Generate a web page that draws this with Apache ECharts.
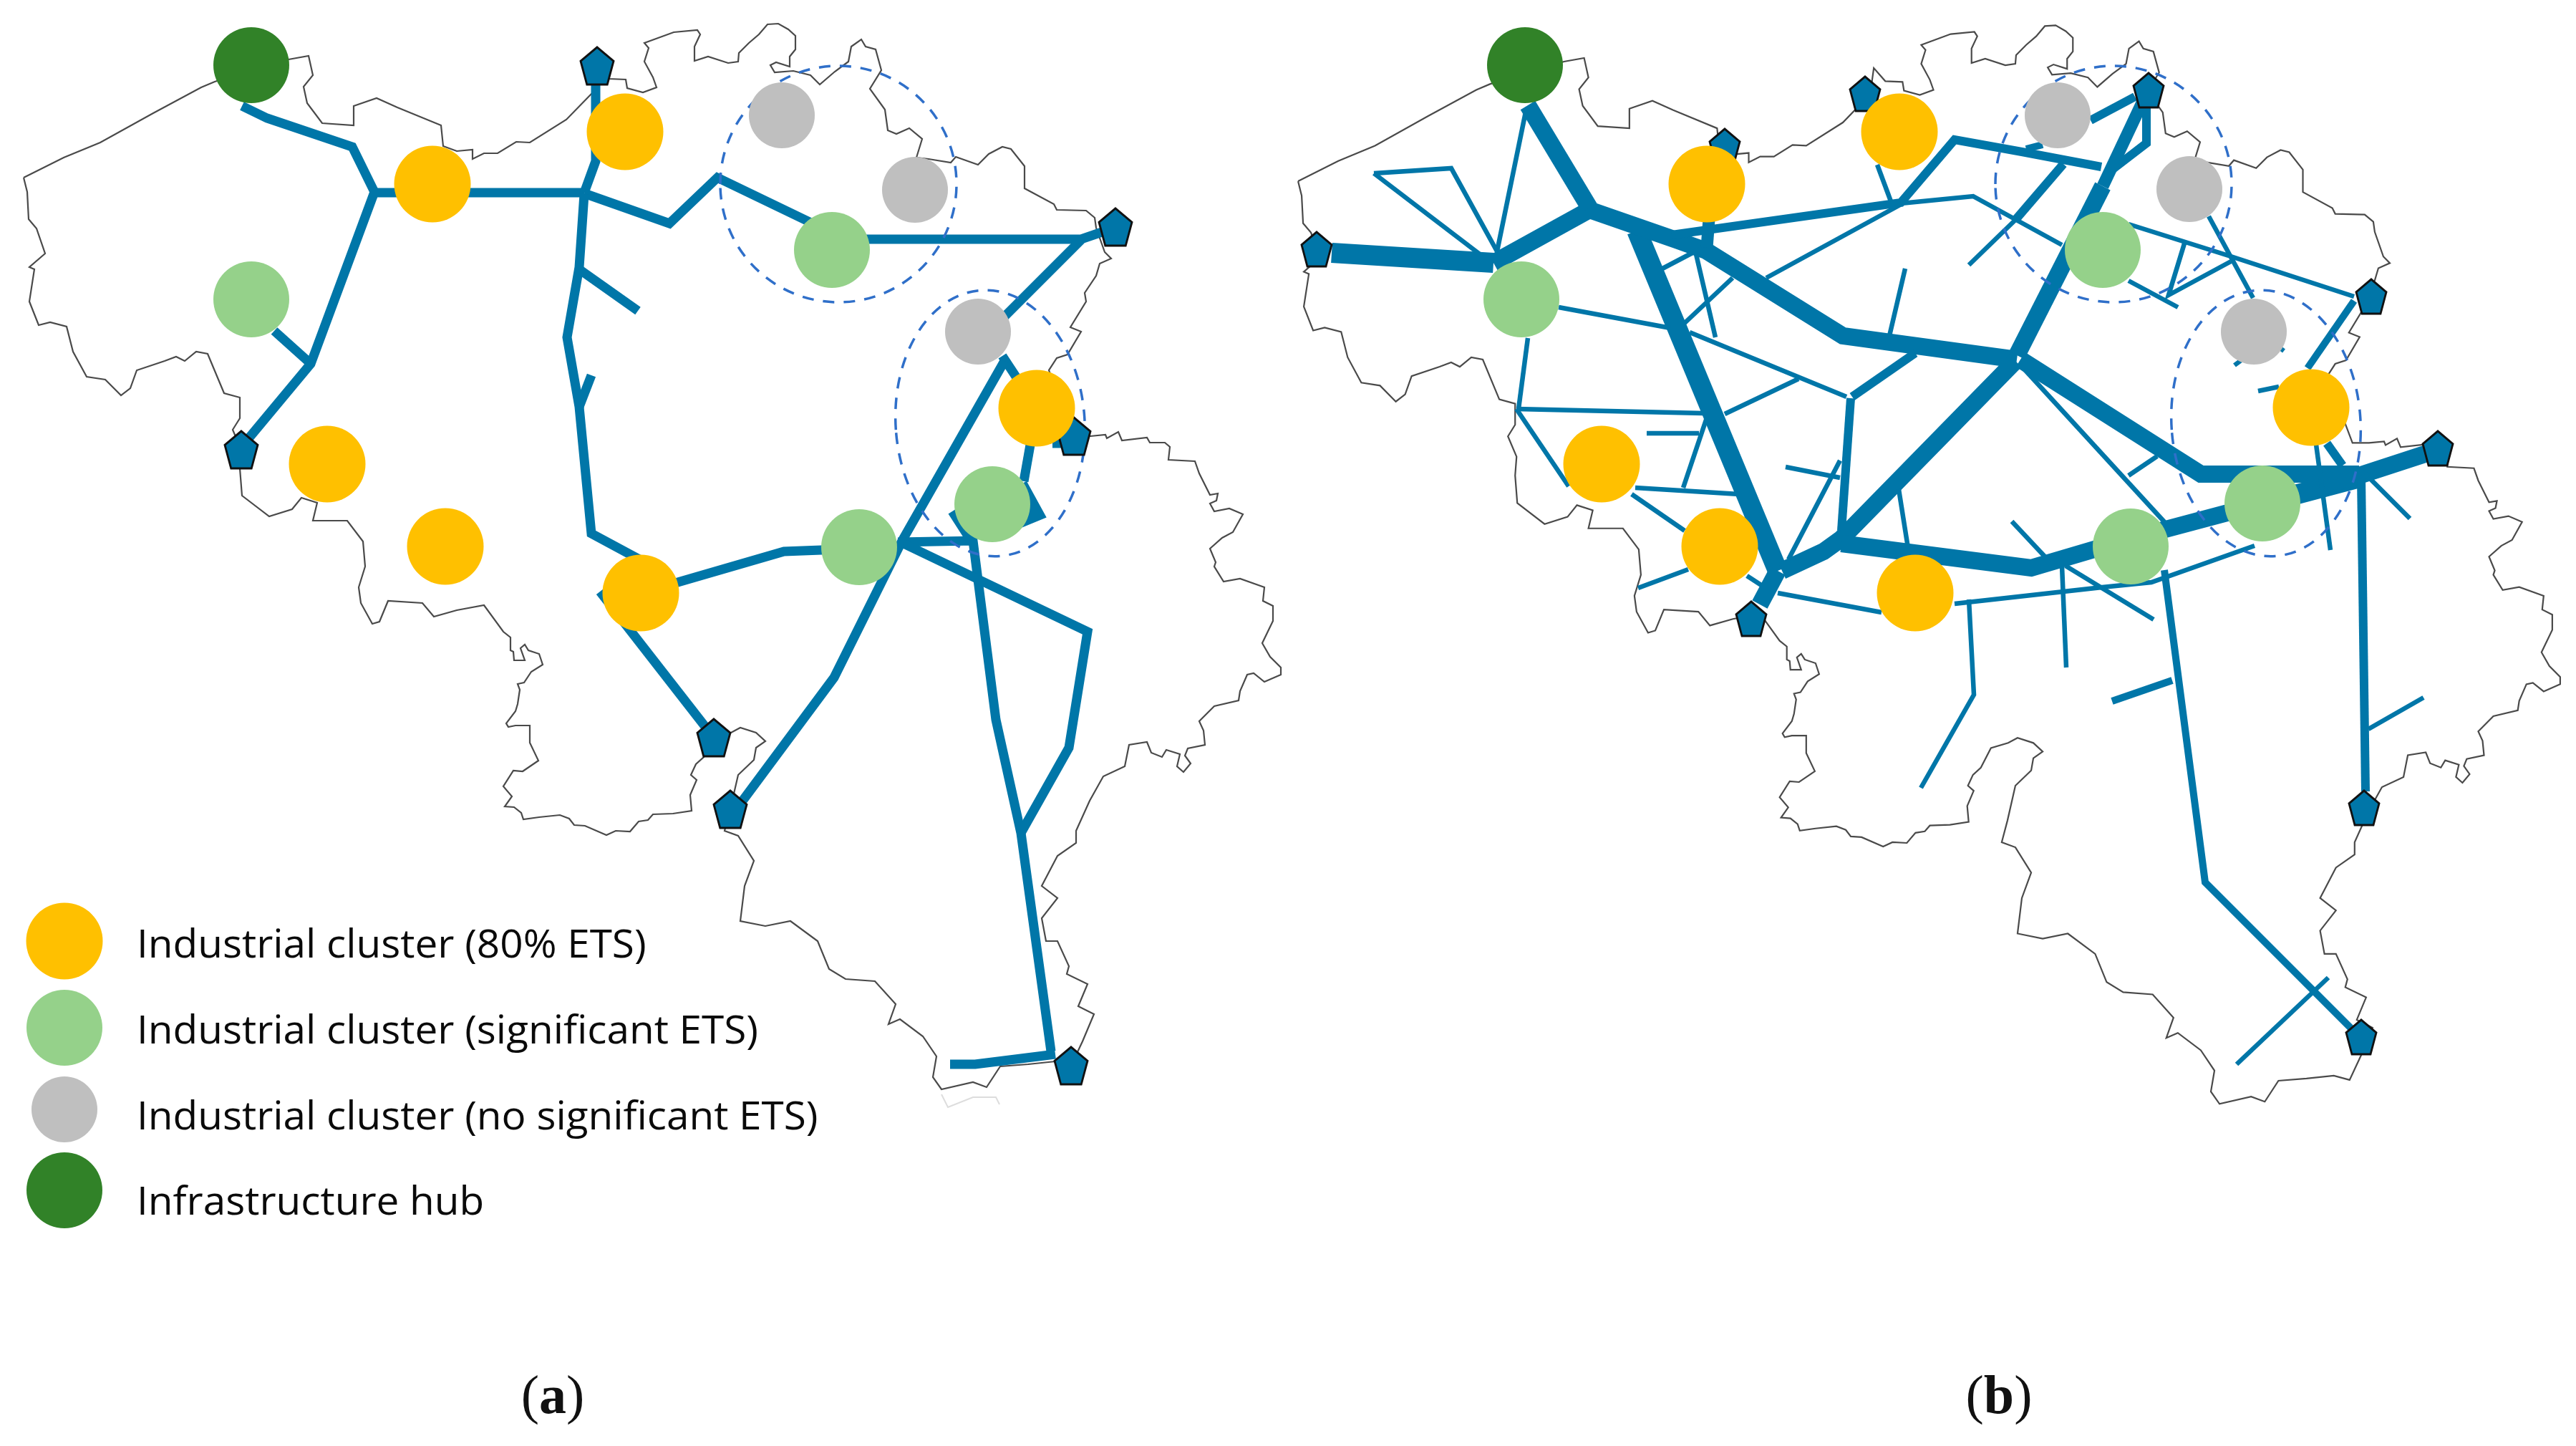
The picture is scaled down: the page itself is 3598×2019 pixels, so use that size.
<!DOCTYPE html>
<html><head><meta charset="utf-8">
<style>html,body{margin:0;padding:0;background:#fff}#c{width:3598px;height:2019px}</style>
<script src="https://cdn.jsdelivr.net/npm/echarts@6/dist/echarts.min.js"></script>
</head><body><div id="c"></div>
<script>
// Border of the country
const border = [[33,248],[89,220],[140,199],[214,158],[281,122],[300,114],[403,83],[431,78],[437,105],[424,121],[429,144],[450,172],[494,175],[494,148],[526,137],[555,150],[616,175],[619,204],[638,211],[660,209],[660,222],[676,214],[695,214],[721,198],[740,199],[791,167],[829,128],[834,92],[850,110],[874,111],[876,123],[898,129],[917,122],[912,108],[900,86],[906,67],[900,60],[941,45],[974,42],[978,48],[970,65],[970,85],[989,79],[1017,88],[1031,86],[1032,74],[1046,60],[1060,48],[1072,34],[1087,33],[1101,41],[1111,50],[1111,69],[1103,79],[1103,93],[1084,87],[1076,91],[1082,101],[1108,99],[1132,105],[1145,118],[1166,100],[1185,86],[1189,65],[1203,55],[1209,65],[1223,69],[1231,98],[1215,124],[1236,153],[1240,182],[1252,187],[1270,179],[1288,194],[1280,220],[1297,222],[1328,227],[1335,219],[1366,230],[1381,215],[1400,205],[1412,208],[1431,232],[1431,263],[1472,285],[1476,293],[1517,294],[1529,304],[1531,318],[1543,352],[1552,361],[1536,368],[1531,385],[1515,409],[1517,421],[1495,457],[1510,463],[1491,495],[1476,500],[1465,517],[1500,609],[1523,609],[1544,607],[1546,612],[1562,603],[1567,615],[1602,611],[1606,618],[1627,618],[1634,624],[1632,642],[1669,644],[1675,661],[1690,691],[1701,689],[1699,699],[1690,703],[1696,714],[1717,710],[1736,718],[1722,743],[1707,751],[1690,766],[1698,785],[1696,791],[1709,812],[1732,808],[1766,820],[1764,839],[1778,846],[1778,867],[1763,898],[1774,917],[1789,932],[1789,942],[1766,952],[1751,940],[1742,942],[1732,965],[1730,978],[1696,986],[1675,1007],[1681,1020],[1683,1040],[1659,1045],[1655,1055],[1663,1066],[1653,1078],[1644,1070],[1648,1053],[1629,1047],[1623,1057],[1608,1051],[1602,1036],[1577,1040],[1571,1070],[1541,1084],[1522,1118],[1503,1160],[1503,1177],[1477,1195],[1455,1237],[1477,1254],[1455,1282],[1461,1314],[1477,1314],[1493,1349],[1490,1360],[1519,1374],[1506,1405],[1528,1416],[1512,1454],[1496,1488],[1474,1482],[1436,1486],[1397,1489],[1378,1518],[1359,1511],[1315,1521],[1303,1504],[1308,1475],[1289,1447],[1257,1423],[1241,1430],[1251,1402],[1222,1370],[1181,1367],[1158,1353],[1142,1314],[1104,1286],[1069,1293],[1034,1286],[1040,1237],[1053,1202],[1031,1167],[1012,1160],[1020,1130],[1031,1082],[1053,1061],[1056,1044],[1069,1035],[1056,1023],[1034,1016],[1021,1023],[997,1030],[983,1057],[972,1067],[965,1082],[973,1089],[964,1110],[966,1132],[940,1136],[912,1137],[905,1145],[892,1147],[880,1161],[860,1160],[847,1166],[817,1153],[802,1152],[795,1143],[782,1138],[753,1141],[731,1144],[728,1135],[718,1127],[705,1126],[715,1112],[703,1098],[717,1076],[730,1077],[752,1062],[740,1037],[740,1013],[720,1013],[710,1015],[707,1010],[720,993],[723,983],[726,963],[723,955],[732,953],[742,938],[758,928],[753,913],[738,908],[733,900],[727,905],[733,922],[718,922],[717,910],[713,908],[713,890],[703,882],[676,845],[638,852],[606,861],[590,842],[542,839],[530,868],[520,871],[504,842],[501,820],[510,791],[507,756],[485,727],[437,727],[443,702],[421,695],[408,711],[376,721],[338,692],[335,654],[337,628],[325,600],[335,584],[335,555],[313,549],[290,494],[274,491],[258,504],[246,498],[230,504],[191,517],[182,542],[169,552],[147,530],[121,526],[102,491],[93,456],[70,450],[54,454],[41,421],[48,376],[41,373],[63,354],[51,319],[40,306],[38,268],[33,248]];
const borderFaint = [[1315,1528],[1324,1546],[1359,1532],[1391,1532],[1396,1542]];

// Panel (a) network
const pipesA = [
 [[338,148],[373,165],[492,205],[523,268],[434,508],[344,616]],
 [[383,462],[432,506]],
 [[523,269],[816,269]],
 [[816,269],[832,225],[832,118]],
 [[816,270],[935,312],[1002,248],[1162,325]],
 [[816,271],[809,373],[792,471],[809,568],[826,745],[893,781]],
 [[809,376],[891,434]],
 [[809,568],[826,524]],
 [[895,828],[1095,770],[1200,766]],
 [[838,826],[997,1030]],
 [[1162,334],[1510,334],[1545,322]],
 [[1510,335],[1385,460]],
 [[1400,497],[1448,570]],
 [[1403,504],[1260,755],[1165,946],[1032,1125]],
 [[1254,757],[1359,755],[1391,1005],[1426,1163],[1468,1468]],
 [[1330,714],[1357,756]],
 [[1327,1486],[1362,1486],[1474,1472]],
 [[1262,759],[1519,882],[1493,1044],[1426,1163]],
 [[1448,570],[1430,672]],
 [[1470,619],[1495,619]]
];
const wedgeA = [[[1426,676],[1449,718],[1420,730]]];
// Panel (b) network, by line weight
const pipesB28 = [[[1860,353],[2086,367]], [[2286,322],[2483,797]], [[3160,703],[3292,668]]];
const pipesB24 = [
 [[2086,367],[2220,293],[2341,335],[2383,350],[2574,469],[2817,502]],
 [[2134,147],[2220,290]],
 [[2483,797],[2458,844]],
 [[2489,797],[2547,770],[2572,752],[2815,504]],
 [[2572,759],[2837,793],[2976,752]],
 [[2976,752],[3160,703],[3292,665],[3390,633]],
 [[2822,502],[3074,662],[3295,662]],
 [[2817,496],[2937,260]]
];
const pipesB17 = [[[2937,260],[2996,135]], [[2387,306],[2384,346]]];
const pipesB12 = [
 [[2335,328],[2655,283],[2730,195],[2824,212],[2935,233]],
 [[2920,168],[2982,135]],
 [[2998,139],[2998,200],[2946,240]],
 [[2587,554],[2675,493]],
 [[2585,556],[2572,741]],
 [[3298,666],[3304,1105]],
 [[3250,619],[3272,650]],
 [[2882,229],[2815,307]]
];
const pipesB10 = [
 [[3023,796],[3080,1232],[3286,1438]],
 [[3034,950],[2950,979]],
 [[3288,420],[3223,514]],
 [[2830,208],[2853,202]]
];
const pipesB6 = [
 [[2815,307],[2750,370]],
 [[2622,230],[2641,281]],
 [[3252,1365],[3124,1486]],
 [[3308,1018],[3385,974]],
 [[3304,662],[3366,724]],
 [[3228,569],[3255,768]],
 [[3288,414],[3116,358],[2973,313]],
 [[3085,302],[3147,416]],
 [[3116,365],[3029,412],[3051,340]],
 [[2973,392],[3042,429]],
 [[3148,490],[3121,510]],
 [[3170,475],[3190,490]],
 [[3154,546],[3183,540]],
 [[2655,284],[2756,274],[2880,342]],
 [[2654,286],[2467,388]],
 [[2420,388],[2353,451]],
 [[2177,429],[2333,458]],
 [[2360,464],[2579,554]],
 [[2512,529],[2409,578]],
 [[2118,571],[2379,577]],
 [[2384,583],[2351,681]],
 [[2300,605],[2373,605]],
 [[2284,681],[2429,690]],
 [[2279,690],[2353,741]],
 [[2118,571],[2191,679]],
 [[2134,472],[2121,571]],
 [[2358,795],[2288,821]],
 [[2440,804],[2460,817]],
 [[2483,828],[2628,855]],
 [[2730,843],[2936,820],[3005,813],[3149,762]],
 [[2750,837],[2757,970],[2683,1100]],
 [[2880,790],[2886,932]],
 [[2885,790],[3008,865]],
 [[2810,728],[2856,777]],
 [[2652,683],[2665,765]],
 [[2494,652],[2570,667]],
 [[2570,643],[2498,781]],
 [[2661,375],[2639,469]],
 [[2369,355],[2396,471]],
 [[2322,375],[2364,353]],
 [[2973,664],[3013,637]],
 [[2826,514],[3027,733]],
 [[1919,242],[2027,235],[2091,351]],
 [[1919,242],[2067,355]],
 [[2131,156],[2091,351]]
];
// Terminals
const terminalsA = [[834,92],[337,628],[1558,317],[1500,609],[997,1030],[1020,1130],[1496,1488]];
const terminalsB = [[1839,348],[2409,204],[2605,131],[2446,864],[3001,126],[3312,414],[3405,626],[3302,1128],[3298,1448]];
// Clusters
const hubSites = [[351,91],[2130,91],[90,1662]];
const ets80Sites = [[604,257],[873,184],[457,648],[622,763],[895,828],[1448,570],[2384,257],[2653,184],[2237,648],[2402,763],[2675,828],[3228,569],[90,1314]];
const etsSigSites = [[351,418],[1162,349],[1386,704],[1200,764],[2125,418],[2937,349],[3160,703],[2976,763],[90,1435]];
const etsNoneSites = [[1092,161],[1278,265],[1366,463],[2874,161],[3058,264],[3148,463],[90,1549]];
// Dashed groupings: centre x, centre y, radius x, radius y
const groupings = [[1171,257,165,165,0],[1383,591,132,186,0.07],[2952,257,165,165,0],[3165,591,132,186,0.07]];
// Texts
const legendLabels = ['Industrial cluster (80% ETS)','Industrial cluster (significant ETS)','Industrial cluster (no significant ETS)','Infrastructure hub'];
const legendAnchors = [[191,1321],[191,1441],[191,1561],[191,1680]];
const panelLabels = ['a','b'];
const panelAnchors = [[772,1953],[2792,1953]];

const PIPE = '#0076A8';
const series = [];
const lineOf = (path, width, z, color, second) => ({
  type:'line', data:path, showSymbol:false, symbol:'none', silent:true, animation:false, z, clip:false,
  xAxisIndex: second?1:0, yAxisIndex: second?1:0,
  lineStyle:{color, width, cap:'butt', join:'miter', miterLimit:4}
});
series.push(lineOf(border, 2.2, 1, '#4a4a4a', false));
series.push(lineOf(border, 2.2, 1, '#4a4a4a', true));
series.push(lineOf(borderFaint, 2, 1, '#ddd', false));
pipesA.forEach(p => series.push(lineOf(p, 13, 2, PIPE)));
wedgeA.forEach(p => series.push(lineOf(p, 18, 2, PIPE)));
[[pipesB28,28],[pipesB24,24],[pipesB17,17],[pipesB12,12],[pipesB10,10],[pipesB6,6.5]].forEach(([g,w]) =>
  g.forEach(p => series.push(lineOf(p, w, 2, PIPE))));
series.push({
  type:'custom', z:3, silent:true, animation:false, clip:false, data:groupings,
  encode:{x:0,y:1},
  renderItem:(params, api) => {
    const c = api.coord([api.value(0), api.value(1)]);
    const s = api.size([api.value(2), api.value(3)]);
    return {type:'ellipse', x:c[0], y:c[1], rotation:api.value(4),
      shape:{cx:0, cy:0, rx:s[0], ry:s[1]},
      style:{fill:'none', stroke:'#2F6FC9', lineWidth:3.5, lineDash:[16,13]}};
  }
});
const PENT = 'path://M50 0 L100 37 L81 100 L19 100 L0 37 Z';
const pentSeries = (d, size) => ({type:'scatter', data:d, symbol:PENT, symbolSize:size, z:4, silent:true, animation:false,
  itemStyle:{color:PIPE, borderColor:'#111', borderWidth:3, opacity:1}});
series.push(pentSeries(terminalsA,[46,52]));
series.push(pentSeries(terminalsB,[42,48]));
const dots = (d, color, size) => ({type:'scatter', data:d, symbol:'circle', symbolSize:size, z:5, silent:true, animation:false, itemStyle:{color, opacity:1}});
series.push(dots(hubSites,'#318228',106));
series.push(dots(ets80Sites,'#FFC000',107));
series.push(dots(etsSigSites,'#95D18A',106));
series.push(dots(etsNoneSites,'#BFBFBF',92));
series.push({
  type:'custom', z:6, silent:true, animation:false, clip:false,
  data:legendAnchors.map((a,i)=>[a[0],a[1],i]), encode:{x:0,y:1},
  renderItem:(params, api) => {
    const c = api.coord([api.value(0), api.value(1)]);
    return {type:'text', x:c[0], y:c[1], scaleX:1.03, style:{text:legendLabels[api.value(2)], fill:'#0a0a0a',
      font:'55px "Open Sans"', align:'left', verticalAlign:'middle'}};
  }
});
series.push({
  type:'custom', z:6, silent:true, animation:false, clip:false,
  data:panelAnchors.map((a,i)=>[a[0],a[1],i]), encode:{x:0,y:1},
  renderItem:(params, api) => {
    const c = api.coord([api.value(0), api.value(1)]);
    return {type:'text', x:c[0], y:c[1], style:{
      text:'{p|(}{b|'+panelLabels[api.value(2)]+'}{p|)}', align:'center', verticalAlign:'middle',
      rich:{p:{fontFamily:'Liberation Serif',fontSize:76,fontWeight:'normal',fill:'#111'},
            b:{fontFamily:'Liberation Serif',fontSize:76,fontWeight:'bold',fill:'#111'}}}};
  }
});

const chart = echarts.init(document.getElementById('c'), null, {renderer:'canvas', width:3598, height:2019});
chart.setOption({
  animation:false, backgroundColor:'#fff',
  grid:{left:0,right:0,top:0,bottom:0},
  xAxis:[{type:'value',min:0,max:3598,show:false},{type:'value',min:-1773,max:1811,show:false}],
  yAxis:[{type:'value',min:0,max:2019,inverse:true,show:false},{type:'value',min:-2,max:1993,inverse:true,show:false}],
  series
});
</script></body></html>
